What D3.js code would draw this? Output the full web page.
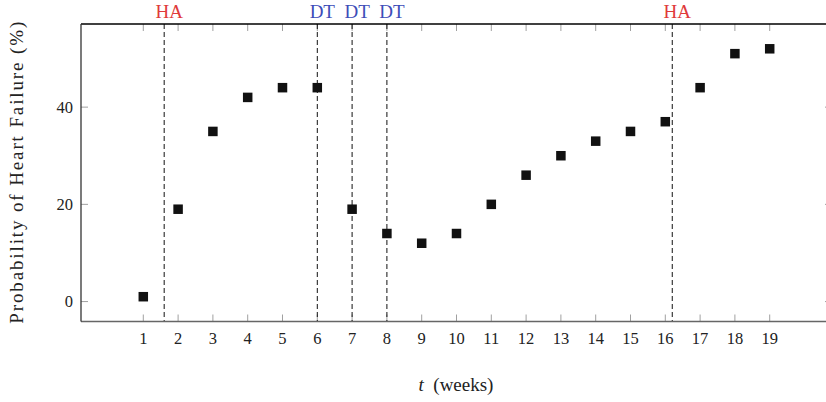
<!DOCTYPE html>
<html>
<head>
<meta charset="utf-8">
<script src="https://cdn.jsdelivr.net/npm/d3@7"></script>
<style>
  body { margin: 0; background: #fff; }
  svg { display: block; }
  text { font-family: "Liberation Serif", "DejaVu Serif", serif; }
</style>
</head>
<body>
<svg id="chart" width="826" height="402"></svg>
<script>
// weeks and probability values
var weeks = [1,2,3,4,5,6,7,8,9,10,11,12,13,14,15,16,17,18,19];
var probs = [1,19,35,42,44,44,19,14,12,14,20,26,30,33,35,37,44,51,52];
var yTicks = [0,20,40];
// events (vertical dashed lines)
var eventX = [1.6, 6, 7, 8, 16.2];
var eventLabel = ['HA','DT','DT','DT','HA'];

var colors = { HA: '#e03a3a', DT: '#3d4db8' };

var svg = d3.select('#chart');
var pLeft = 81, pRight = 832, pTop = 24, pBottom = 321.5;

var x = d3.scaleLinear().domain([-0.79, 20.79]).range([pLeft, pRight]);
var y = d3.scaleLinear().domain([-4.1, 57.1]).range([pBottom, pTop]);

// ticks on all sides, pointing inward
var tickLen = 7;
var g = svg.append('g');

g.selectAll('.xtb').data(weeks).enter().append('line')
  .attr('x1', function(d){ return x(d); }).attr('x2', function(d){ return x(d); })
  .attr('y1', pBottom).attr('y2', pBottom - tickLen)
  .attr('stroke', '#a0a0a0').attr('stroke-width', 1);
g.selectAll('.xtt').data(weeks).enter().append('line')
  .attr('x1', function(d){ return x(d); }).attr('x2', function(d){ return x(d); })
  .attr('y1', pTop).attr('y2', pTop + tickLen)
  .attr('stroke', '#a0a0a0').attr('stroke-width', 1);
g.selectAll('.ytl').data(yTicks).enter().append('line')
  .attr('x1', pLeft).attr('x2', pLeft + tickLen)
  .attr('y1', function(d){ return y(d); }).attr('y2', function(d){ return y(d); })
  .attr('stroke', '#a0a0a0').attr('stroke-width', 1);
g.selectAll('.ytr').data(yTicks).enter().append('line')
  .attr('x1', pRight).attr('x2', pRight - tickLen)
  .attr('y1', function(d){ return y(d); }).attr('y2', function(d){ return y(d); })
  .attr('stroke', '#a0a0a0').attr('stroke-width', 1);

// tick labels
g.selectAll('.xl').data(weeks).enter().append('text')
  .attr('x', function(d){ return x(d); }).attr('y', pBottom + 22)
  .attr('text-anchor', 'middle').attr('font-size', 16.5).attr('fill', '#222')
  .text(function(d){ return d; });
g.selectAll('.yl').data(yTicks).enter().append('text')
  .attr('x', pLeft - 8).attr('y', function(d){ return y(d) + 5.5; })
  .attr('text-anchor', 'end').attr('font-size', 16.5).attr('fill', '#222')
  .text(function(d){ return d; });

// dashed event lines
svg.selectAll('.ev').data(eventX).enter().append('line')
  .attr('x1', function(d){ return x(d); }).attr('x2', function(d){ return x(d); })
  .attr('y1', pTop).attr('y2', pBottom)
  .attr('stroke', '#111').attr('stroke-width', 1)
  .attr('stroke-dasharray', '5,3');

svg.selectAll('.evl').data(eventX).enter().append('text')
  .attr('x', function(d){ return x(d) + 5; }).attr('y', 17.5)
  .attr('text-anchor', 'middle').attr('font-size', 19)
  .attr('fill', function(d, i){ return colors[eventLabel[i]]; })
  .text(function(d, i){ return eventLabel[i]; });

// frame
svg.append('line').attr('x1', pLeft).attr('x2', pRight).attr('y1', pTop).attr('y2', pTop)
  .attr('stroke', '#000').attr('stroke-width', 1.3);
svg.append('line').attr('x1', pLeft).attr('x2', pRight).attr('y1', pBottom).attr('y2', pBottom)
  .attr('stroke', '#666').attr('stroke-width', 1.3);
svg.append('line').attr('x1', pLeft).attr('x2', pLeft).attr('y1', pTop).attr('y2', pBottom)
  .attr('stroke', '#333').attr('stroke-width', 1.3);
svg.append('line').attr('x1', pRight).attr('x2', pRight).attr('y1', pTop).attr('y2', pBottom)
  .attr('stroke', '#333').attr('stroke-width', 1.3);

// markers
var s = 9.5;
svg.selectAll('.pt').data(weeks).enter().append('rect')
  .attr('x', function(d){ return x(d) - s / 2; })
  .attr('y', function(d, i){ return y(probs[i]) - s / 2; })
  .attr('width', s).attr('height', s)
  .attr('fill', '#111');

// axis titles
var xt = svg.append('text').attr('x', 456).attr('y', 391)
  .attr('text-anchor', 'middle').attr('font-size', 19).attr('fill', '#222');
xt.append('tspan').attr('font-style', 'italic').text('t');
xt.append('tspan').text('\u2002(weeks)');

svg.append('text')
  .attr('transform', 'translate(23,' + ((pTop + pBottom) / 2) + ') rotate(-90)')
  .attr('text-anchor', 'middle').attr('font-size', 19).attr('fill', '#222')
  .attr('textLength', 302).attr('lengthAdjust', 'spacing')
  .text('Probability of Heart Failure (%)');
</script>
</body>
</html>
